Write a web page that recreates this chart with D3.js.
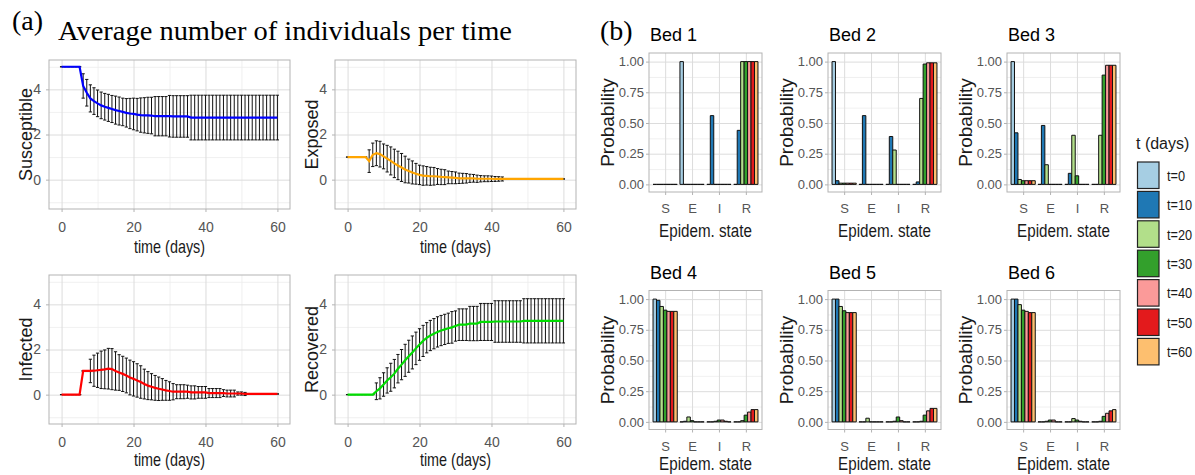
<!DOCTYPE html>
<html><head><meta charset="utf-8">
<script src="https://cdn.jsdelivr.net/npm/d3@7"></script>
<style>body{margin:0;background:#fff}</style>
</head><body><svg id="c" width="1195" height="475" font-family='"Liberation Sans",Arial,sans-serif'></svg>
<script>
// ---------------- DATA ----------------
const days = d3.range(61);
const susMean = [5,5,5,5,5,5, 4.15,3.85,3.6,3.48,3.38, 3.29,3.23,3.18,3.13,3.08, 3.04,3.0,2.96,2.93,2.91,
 2.88,2.86,2.85,2.85,2.84, 2.81,2.81,2.81,2.81,2.81, 2.80,2.80,2.80,2.80,2.80,
 2.75,2.75,2.75,2.75,2.75, 2.75,2.75,2.75,2.75,2.75, 2.75,2.75,2.75,2.75,2.75, 2.75,2.75,2.75,2.75,2.75, 2.75,2.75,2.75,2.75,2.75];
const susSd = [0,0,0,0,0,0, 0.54,0.59,0.6,0.59,0.59, 0.59,0.59,0.6,0.6,0.62, 0.62,0.61,0.63,0.67,0.7,
 0.72,0.76,0.78,0.8,0.81, 0.87,0.87,0.87,0.87,0.92, 0.92,0.92,0.92,0.92,0.92,
 0.99,0.99,0.99,0.99,0.99, 0.99,0.99,0.99,0.99,0.99, 0.99,0.99,0.99,0.99,0.99, 0.99,0.99,0.99,0.99,0.99, 0.99,0.99,0.99,0.99,0.99];
const expMean = [1,1,1,1,1,1, 0.82,1.1,1.17,1.13,1.03, 0.93,0.83,0.72,0.63,0.54, 0.45,0.38,0.32,0.26,0.21,
 0.18,0.17,0.15,0.15,0.14, 0.12,0.11,0.1,0.09,0.08, 0.06,0.06,0.06,0.06,0.06,
 0.04,0.04,0.04,0.04,0.04, 0.03,0.03,0.03,0.03,0.03, 0.03,0.03,0.03,0.03,0.03, 0.03,0.03,0.03,0.03,0.03, 0.03,0.03,0.03,0.03,0.03];
const expSd = [0,0,0,0,0,0, 0.5,0.52,0.55,0.57,0.55, 0.59,0.62,0.63,0.63,0.62, 0.59,0.53,0.51,0.46,0.43,
 0.43,0.41,0.4,0.39,0.35, 0.34,0.33,0.28,0.27,0.26, 0.23,0.22,0.21,0.18,0.17,
 0.16,0.14,0.13,0.13,0.12, 0.11,0.1,0.09,0,0, 0,0,0,0,0, 0,0,0,0,0, 0,0,0,0,0];
const infMean = [0,0,0,0,0,0, 1.05,1.05,1.05,1.06,1.08, 1.1,1.12,1.15,1.13,1.05, 0.98,0.92,0.85,0.76,0.7,
 0.63,0.56,0.47,0.4,0.35, 0.3,0.26,0.23,0.19,0.16, 0.13,0.13,0.13,0.13,0.13,
 0.1,0.1,0.1,0.1,0.1, 0.07,0.07,0.07,0.07,0.07, 0.05,0.05,0.05,0.05,0.05, 0.03,0.03,0.03,0.03,0.03, 0.03,0.03,0.03,0.03,0.03];
const infSd = [0,0,0,0,0,0,0,0, 0.52,0.69,0.76,0.83,0.86, 0.9,0.91,0.85,0.79,0.78, 0.77,0.77,0.76,0.74,0.72,
 0.66,0.62,0.58,0.55,0.52, 0.48,0.44,0.41,0.36,0.31, 0.31,0.31,0.29,0.29,0.29,
 0.26,0.26,0.26,0.2,0.2, 0.2,0.2,0.15,0.15,0.15, 0.15,0.07,0.07,0.07,0, 0,0,0,0,0,0,0,0];
const recMean = [0,0,0,0,0,0,0,0, 0.15,0.28,0.45,0.63,0.77, 0.93,1.15,1.33,1.52,1.7, 1.87,2.05,2.22,2.38,2.52,
 2.62,2.7,2.78,2.84,2.89, 2.94,2.98,3.04,3.1,3.1, 3.1,3.15,3.15,3.15,3.22,
 3.22,3.22,3.22,3.24,3.24, 3.24,3.24,3.24,3.24,3.24, 3.24,3.27,3.27,3.27,3.27, 3.27,3.27,3.27,3.27,3.27,3.27,3.27,3.27];
const recSd = [0,0,0,0,0,0,0,0, 0.37,0.47,0.52,0.56,0.62, 0.63,0.63,0.67,0.71,0.71, 0.73,0.72,0.7,0.69,0.67,
 0.67,0.67,0.67,0.67,0.67, 0.67,0.7,0.67,0.7,0.7, 0.7,0.76,0.76,0.76,0.82,
 0.82,0.82,0.82,0.92,0.92, 0.92,0.92,0.92,0.92,0.92, 0.92,0.98,0.98,0.98,0.98, 0.98,0.98,0.98,0.98,0.98,0.98,0.98,0.98];

const timeXTicks = [0,20,40,60];
const timeYTicks = [0,2,4];

const states = ["S","E","I","R"];
const times = ["t=0","t=10","t=20","t=30","t=40","t=50","t=60"];
const timeColors = ["#A6CEE3","#1F78B4","#B2DF8A","#33A02C","#FB9A99","#E31A1C","#FDBF6F"];
const probTicks = [0,0.25,0.5,0.75,1];
// rows = states S,E,I,R ; columns = t=0..60
const bed1 = [[0,0,0,0,0,0,0],[1,0,0,0,0,0,0],[0,0.56,0,0,0,0,0],[0,0.44,1,1,1,1,1]];
const bed2 = [[1,0.03,0.01,0.01,0.01,0.01,0.01],[0,0.56,0,0,0,0,0],[0,0.39,0.28,0,0,0,0],[0,0.02,0.70,0.98,0.99,0.99,0.99]];
const bed3 = [[1,0.42,0.04,0.03,0.03,0.03,0.03],[0,0.48,0.16,0,0,0,0],[0,0.09,0.40,0.07,0,0,0],[0,0,0.40,0.89,0.97,0.97,0.97]];
const bed4 = [[1,0.99,0.94,0.91,0.90,0.90,0.90],[0,0.005,0.04,0.01,0,0,0],[0,0,0.005,0.015,0.015,0.005,0],[0,0,0.01,0.055,0.08,0.10,0.10]];
const bed5 = [[1,1,0.94,0.905,0.89,0.89,0.89],[0,0,0.03,0,0,0,0],[0,0,0.005,0.04,0.01,0,0],[0,0,0.005,0.055,0.09,0.11,0.11]];
const bed6 = [[1,1,0.955,0.91,0.90,0.89,0.89],[0,0,0.005,0.015,0.015,0,0],[0,0,0.027,0.015,0.005,0,0],[0,0,0.005,0.045,0.07,0.09,0.10]];
const beds = [bed1,bed2,bed3,bed4,bed5,bed6];
const bedTitles = ["Bed 1","Bed 2","Bed 3","Bed 4","Bed 5","Bed 6"];

// ---------------- DRAW ----------------
const svg = d3.select("#c");
const FONT = '"Liberation Sans",Arial,sans-serif';
const SERIF = '"Liberation Serif","Times New Roman",serif';
const GRID_MAJ = "#dcdcdc", GRID_MIN = "#ececec", BORDER = "#b3b3b3", TICKTXT = "#555";

function styleGrid(g, color, w){
  g.select(".domain").remove();
  g.selectAll("line").attr("stroke", color).attr("stroke-width", w);
}
function styleAxis(g, fs){
  g.select(".domain").remove();
  g.selectAll("line").attr("stroke", BORDER);
  g.attr("font-family", FONT).attr("font-size", fs);
  g.selectAll("text").attr("fill", TICKTXT);
}

// Titles
svg.append("text").attr("x",12).attr("y",30).attr("font-family",SERIF)
  .attr("font-size",28).attr("fill","#000").text("(a)");
svg.append("text").attr("x",58).attr("y",40).attr("font-family",SERIF)
  .attr("font-size",28).attr("fill","#000").attr("textLength",454).attr("lengthAdjust","spacingAndGlyphs")
  .text("Average number of individuals per time");
svg.append("text").attr("x",600).attr("y",40).attr("font-family",SERIF)
  .attr("font-size",28).attr("fill","#000").text("(b)");

// Panel (a)
const TS = [
  {label:"Susceptible", mean:susMean, sd:susSd, color:"#0000FF", x0:49, y0:60},
  {label:"Exposed", mean:expMean, sd:expSd, color:"#FFA500", x0:335, y0:60},
  {label:"Infected", mean:infMean, sd:infSd, color:"#FF0000", x0:49, y0:275},
  {label:"Recovered", mean:recMean, sd:recSd, color:"#00DD00", x0:335, y0:275}
];
const tsW = 241, tsH = 149;
TS.forEach(p => {
  const g = svg.append("g");
  const x = d3.scaleLinear().domain([-3.5,63.5]).range([p.x0, p.x0+tsW]);
  const y = d3.scaleLinear().domain([-1.3,5.3]).range([p.y0+tsH, p.y0]);
  g.append("g").attr("transform",`translate(0,${p.y0+tsH})`)
    .call(d3.axisBottom(x).tickValues([10,30,50]).tickSize(-tsH).tickFormat("")).call(s=>styleGrid(s,GRID_MIN,0.8));
  g.append("g").attr("transform",`translate(${p.x0},0)`)
    .call(d3.axisLeft(y).tickValues([-1,1,3,5]).tickSize(-tsW).tickFormat("")).call(s=>styleGrid(s,GRID_MIN,0.8));
  g.append("g").attr("transform",`translate(0,${p.y0+tsH})`)
    .call(d3.axisBottom(x).tickValues(timeXTicks).tickSize(-tsH).tickFormat("")).call(s=>styleGrid(s,GRID_MAJ,1));
  g.append("g").attr("transform",`translate(${p.x0},0)`)
    .call(d3.axisLeft(y).tickValues(timeYTicks).tickSize(-tsW).tickFormat("")).call(s=>styleGrid(s,GRID_MAJ,1));
  // error bars
  const eb = g.append("g").attr("stroke","#111").attr("stroke-width",1).attr("fill","none");
  days.forEach(d => {
    const m = p.mean[d], s = p.sd[d];
    const xl = x(d-0.45), xr = x(d+0.45), xc = x(d);
    eb.append("path").attr("d",
      `M${xl},${y(m+s)}H${xr}M${xc},${y(m+s)}V${y(m-s)}M${xl},${y(m-s)}H${xr}`);
  });
  // mean line
  g.append("path").datum(days).attr("fill","none").attr("stroke",p.color).attr("stroke-width",2.2)
    .attr("d", d3.line().x(d=>x(d)).y(d=>y(p.mean[d])));
  g.append("rect").attr("x",p.x0).attr("y",p.y0).attr("width",tsW).attr("height",tsH)
    .attr("fill","none").attr("stroke",BORDER).attr("stroke-width",1);
  g.append("g").attr("transform",`translate(0,${p.y0+tsH})`)
    .call(d3.axisBottom(x).tickValues(timeXTicks).tickSize(3).tickPadding(10).tickFormat(d3.format("d"))).call(s=>styleAxis(s,14));
  g.append("g").attr("transform",`translate(${p.x0},0)`)
    .call(d3.axisLeft(y).tickValues(timeYTicks).tickSize(3).tickPadding(5).tickFormat(d3.format("d"))).call(s=>styleAxis(s,14));
  g.append("text").attr("transform",`translate(${p.x0-23},${p.y0+tsH/2}) rotate(-90)`)
    .attr("text-anchor","middle").attr("dy","0.35em").attr("font-size",18).attr("fill","#1a1a1a").text(p.label);
  g.append("text").attr("transform",`translate(${p.x0+tsW/2},${p.y0+tsH+(p.y0>200?36:38)}) scale(0.8,1)`)
    .attr("text-anchor","middle").attr("dy","0.35em").attr("font-size",18).attr("fill","#1a1a1a").text("time (days)");
});

// Panel (b)
const bW = 113, bH = 139;
beds.forEach((data, bi) => {
  const col = bi % 3, row = Math.floor(bi/3);
  const x0 = 649 + col*179, y0 = 53 + row*237.5;
  const g = svg.append("g");
  const x = d3.scalePoint().domain(states).range([x0, x0+bW]).padding(0.6);
  const y = d3.scaleLinear().domain([-0.062,1.07]).range([y0+bH, y0]);
  const step = x.step(), gw = 0.9*step, bw = gw/times.length;
  g.append("g").attr("transform",`translate(${x0},0)`)
    .call(d3.axisLeft(y).tickValues([0.125,0.375,0.625,0.875]).tickSize(-bW).tickFormat("")).call(s=>styleGrid(s,GRID_MIN,0.8));
  g.append("g").attr("transform",`translate(${x0},0)`)
    .call(d3.axisLeft(y).tickValues(probTicks).tickSize(-bW).tickFormat("")).call(s=>styleGrid(s,GRID_MAJ,1));
  g.append("g").attr("transform",`translate(0,${y0+bH})`)
    .call(d3.axisBottom(x).tickSize(-bH).tickFormat("")).call(s=>styleGrid(s,GRID_MAJ,1));
  const bars = g.append("g").attr("stroke","#111").attr("stroke-width",1);
  states.forEach((st, si) => {
    times.forEach((t, ti) => {
      const v = data[si][ti];
      const bx = x(st) - gw/2 + ti*bw;
      bars.append("path").attr("fill", timeColors[ti])
        .attr("d", `M${bx},${y(0)}V${y(v)}H${bx+bw}V${y(0)}Z`);
    });
  });
  g.append("rect").attr("x",x0).attr("y",y0).attr("width",bW).attr("height",bH)
    .attr("fill","none").attr("stroke",BORDER).attr("stroke-width",1);
  g.append("g").attr("transform",`translate(0,${y0+bH})`)
    .call(d3.axisBottom(x).tickSize(3).tickPadding(9)).call(s=>styleAxis(s,13));
  g.append("g").attr("transform",`translate(${x0},0)`)
    .call(d3.axisLeft(y).tickValues(probTicks).tickSize(3).tickPadding(2).tickFormat(d3.format(".2f"))).call(s=>styleAxis(s,13));
  g.append("text").attr("x",x0+1).attr("y",y0-12).attr("font-size",18).attr("fill","#000").text(bedTitles[bi]);
  g.append("text").attr("transform",`translate(${x0-42},${y0+bH/2}) rotate(-90)`)
    .attr("text-anchor","middle").attr("dy","0.35em").attr("font-size",19).attr("fill","#1a1a1a").text("Probability");
  g.append("text").attr("transform",`translate(${x0+bW/2},${y0+bH+(row?33.5:38)}) scale(0.8,1)`)
    .attr("text-anchor","middle").attr("dy","0.35em").attr("font-size",19).attr("fill","#1a1a1a").text("Epidem. state");
});

// Legend
const lg = svg.append("g");
lg.append("text").attr("x",1136).attr("y",149).attr("font-size",16).attr("fill","#1a1a1a").text("t (days)");
const ly = d3.scaleLinear().domain([0,1]).range([162, 162+29.4]);
times.forEach((t, i) => {
  lg.append("rect").attr("x",1137.5).attr("y",ly(i)).attr("width",21.5).attr("height",26.5)
    .attr("fill",timeColors[i]).attr("stroke","#222").attr("stroke-width",1.2);
  lg.append("text").attr("transform",`translate(1167,${ly(i)+13.5}) scale(0.85,1)`)
    .attr("dy","0.35em").attr("font-size",15).attr("fill","#1a1a1a").text(t);
});
</script></body></html>
